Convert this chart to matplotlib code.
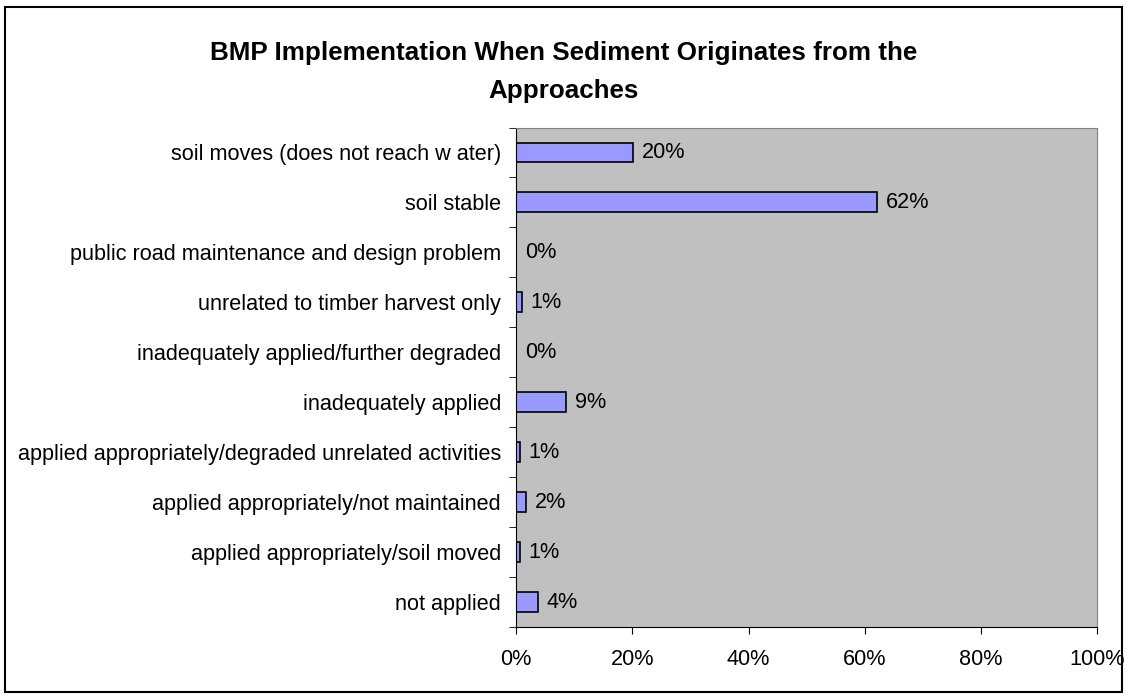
import matplotlib
matplotlib.use("Agg")
import matplotlib.pyplot as plt
from matplotlib.patches import Rectangle
import numpy as np

# categories listed bottom to top
categories = [
    "not applied",
    "applied appropriately/soil moved",
    "applied appropriately/not maintained",
    "applied appropriately/degraded unrelated activities",
    "inadequately applied",
    "inadequately applied/further degraded",
    "unrelated to timber harvest only",
    "public road maintenance and design problem",
    "soil stable",
    "soil moves (does not reach w ater)",
]
values = [3.7, 0.6, 1.7, 0.6, 8.6, 0.0, 1.0, 0.0, 62.2, 20.2]
xticks = [0, 20, 40, 60, 80, 100]

plt.rcParams['font.family'] = ['Liberation Sans', 'DejaVu Sans']
fs = 15.6

fig = plt.figure(figsize=(11.27, 6.98), dpi=100)
ax = fig.add_axes([0.458, 0.1017, 0.5154, 0.7156])

# border round the whole chart
fig.patches.append(Rectangle((0.0045, 0.009), 0.991, 0.981, transform=fig.transFigure,
                             fill=False, edgecolor='black', linewidth=1.5))

y = np.arange(len(categories))
ax.set_facecolor('#C0C0C0')
ax.barh(y, values, height=0.4, color='#9999FF', edgecolor='black', linewidth=1.2)

for yi, v in zip(y, values):
    ax.text(v + 1.5, yi, f"{round(v):.0f}%", va='center', ha='left', fontsize=fs)

ax.set_xlim(0, 100)
ax.set_ylim(-0.5, len(categories) - 0.5)
ax.set_xticks(xticks)
ax.set_xticklabels([f"{t}%" for t in xticks], fontsize=fs)
ax.set_yticks(y)
ax.set_yticklabels(categories, fontsize=fs)
ax.set_yticks(np.arange(-0.5, len(categories)), minor=True)
ax.tick_params(axis='y', which='major', length=0, pad=11)
ax.tick_params(axis='y', which='minor', length=5, direction='out')
ax.tick_params(axis='x', length=5, direction='out', pad=11)

for side in ['top', 'right']:
    ax.spines[side].set_color('#808080')
for side in ['left', 'bottom']:
    ax.spines[side].set_color('black')

fig.text(0.5, 0.897, "BMP Implementation When Sediment Originates from the\nApproaches",
         ha='center', va='center', fontsize=18.75, fontweight='bold', linespacing=1.7)

fig.savefig("out.png", dpi=100)
